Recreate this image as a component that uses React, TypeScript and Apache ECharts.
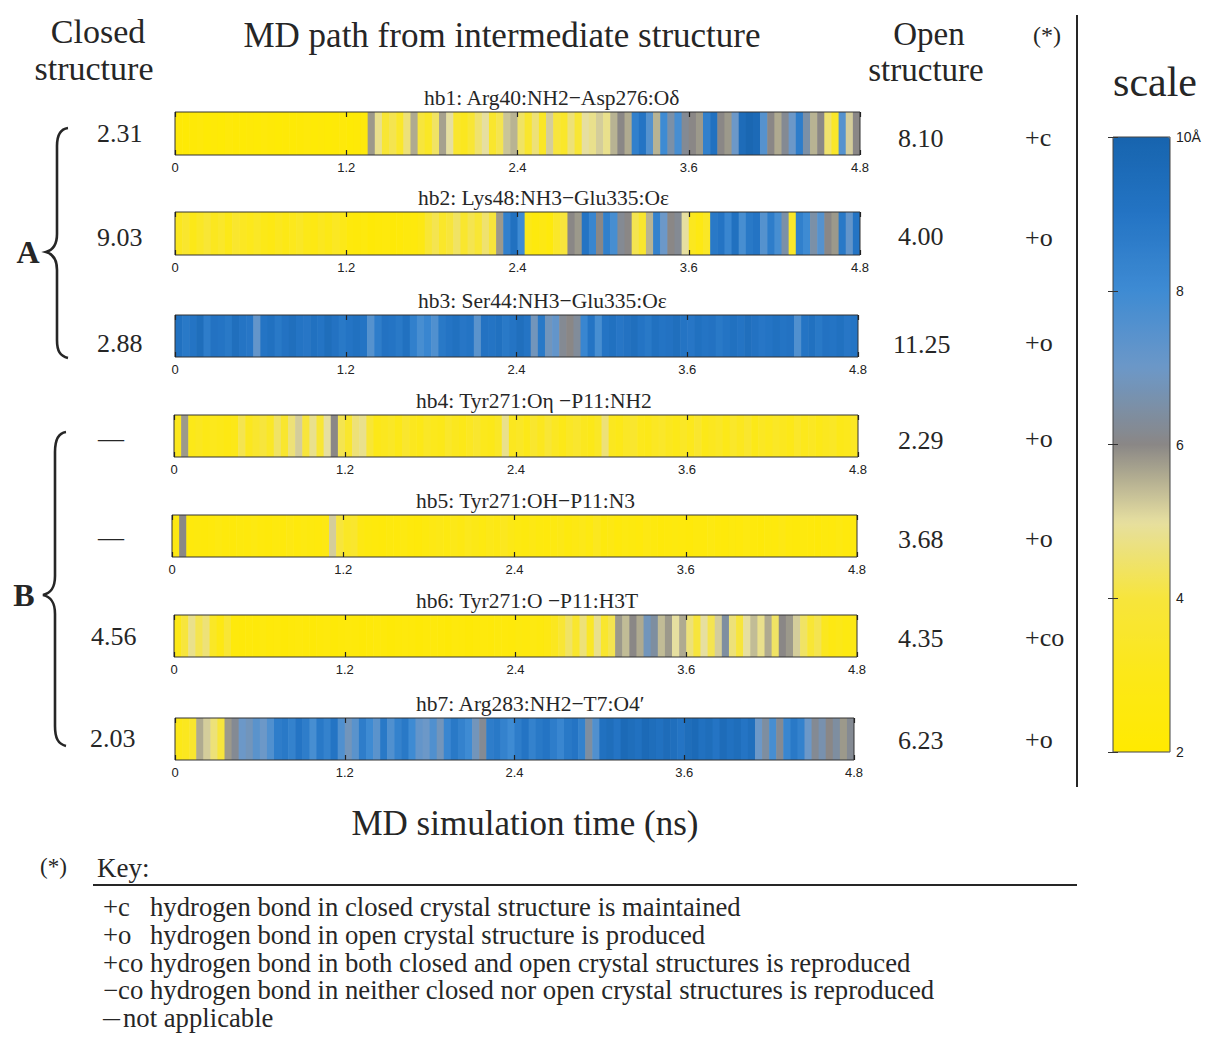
import React, { useEffect, useRef } from "react";
import * as echarts from "echarts";

// ---------------- DATA ----------------
const TIME_MIN = 0;
const TIME_MAX = 4.8;
const TIME_TICK = 1.2;
const SCALE_MIN = 2;
const SCALE_MAX = 10;
const SCALE_TICK = 2;
const SCALE_COLORS = ["#FFEA00", "#FCE818", "#F7E53C", "#E6DFA0", "#8A8786", "#6C98C8", "#3E8BD3", "#2474C4", "#1764AE"];

const bondNames = [
  "hb1: Arg40:NH2\u2212Asp276:O\u03b4",
  "hb2: Lys48:NH3\u2212Glu335:O\u03b5",
  "hb3: Ser44:NH3\u2212Glu335:O\u03b5",
  "hb4: Tyr271:O\u03b7 \u2212P11:NH2",
  "hb5: Tyr271:OH\u2212P11:N3",
  "hb6: Tyr271:O \u2212P11:H3T",
  "hb7: Arg283:NH2\u2212T7:O4\u2032",
];
const closedValues = ["2.31", "9.03", "2.88", "\u2014", "\u2014", "4.56", "2.03"];
const openValues = ["8.10", "4.00", "11.25", "2.29", "3.68", "4.35", "6.23"];
const keyCodes = ["+c", "+o", "+o", "+o", "+o", "+co", "+o"];

// distances (Å) per 0.05 ns bin, 0 .. 4.8 ns
const hb1 = [
  2.3, 2.2, 2.3, 2.4, 2.2, 2.3, 2.2, 2.4, 2.3, 2.2,
  2.3, 2.2, 2.4, 2.3, 2.2, 2.3, 2.2, 2.3, 2.4, 2.2,
  2.3, 2.2, 2.3, 2.4, 2.2, 2.3, 2.5, 5.8, 4.8, 3.8,
  4.2, 3.5, 4.6, 5.6, 4.0, 3.4, 4.4, 5.7, 5.0, 3.6,
  3.2, 3.8, 4.5, 5.0, 3.6, 4.2, 5.3, 5.5, 4.4, 3.6,
  4.6, 3.4, 5.2, 4.0, 3.5, 4.6, 3.8, 5.0, 4.8, 5.2,
  4.8, 5.5, 6.0, 5.6, 8.5, 9.0, 7.5, 5.5, 8.0, 6.5,
  7.8, 6.2, 6.0, 5.8, 8.5, 9.2, 6.0, 5.8, 7.0, 9.5,
  9.8, 9.6, 7.5, 6.0, 5.6, 6.2, 7.0, 8.6, 6.5, 5.5,
  6.0, 4.5, 3.5, 7.5, 5.2, 6.0,
];
const hb2 = [
  3.2, 3.6, 3.0, 3.4, 3.8, 3.2, 3.5, 3.0, 3.6, 3.3,
  3.1, 3.4, 3.0, 2.8, 3.2, 2.9, 3.1, 3.4, 3.0, 2.8,
  3.2, 2.9, 3.3, 3.0, 2.5, 2.4, 2.6, 2.3, 2.4, 2.5,
  2.3, 2.4, 2.6, 2.5, 2.8, 3.8, 4.2, 3.5, 4.0, 4.4,
  3.6, 4.2, 3.8, 4.5, 4.0, 5.8, 8.5, 9.2, 8.0, 3.0,
  2.6, 2.8, 2.5, 3.5, 4.0, 6.0, 5.8, 9.0, 8.2, 6.0,
  8.5, 7.8, 6.2, 6.0, 4.2, 3.6, 5.5, 8.4, 7.0, 6.0,
  6.2, 5.0, 3.2, 2.8, 3.4, 8.8, 9.0, 8.2, 9.2, 7.8,
  8.8, 9.0, 7.5, 8.6, 7.8, 6.5, 3.5, 8.5, 8.0, 6.5,
  7.5, 6.0, 5.8, 8.8, 7.2, 9.0,
];
const hb3 = [
  9.2, 8.8, 9.0, 9.4, 8.6, 9.1, 9.0, 8.8, 9.3, 9.0,
  8.9, 7.2, 9.0, 9.2, 8.8, 9.1, 9.3, 9.0, 8.9, 9.2,
  9.0, 9.4, 9.1, 8.8, 9.0, 9.2, 9.0, 7.5, 8.6, 9.1,
  9.0, 8.8, 9.2, 8.5, 7.8, 8.2, 7.6, 8.8, 9.0, 9.2,
  8.9, 9.0, 7.4, 9.1, 9.0, 9.2, 8.8, 9.0, 9.3, 9.0,
  6.8, 8.8, 6.8, 7.2, 6.2, 6.0, 6.3, 8.2, 9.0, 7.8,
  9.0, 9.2, 8.9, 9.1, 9.3, 9.0, 8.8, 9.2, 9.0, 9.1,
  9.3, 9.0, 8.9, 9.2, 9.0, 9.1, 8.8, 9.0, 9.2, 9.0,
  9.3, 9.1, 8.9, 9.0, 9.2, 9.0, 9.1, 7.6, 9.0, 9.2,
  8.8, 9.1, 9.0, 9.2, 8.9, 9.0,
];
const hb4 = [
  3.2, 5.8, 3.0, 3.2, 2.9, 3.1, 3.0, 2.8, 3.0, 4.2,
  3.2, 3.6, 4.0, 3.4, 4.4, 3.6, 4.6, 5.2, 4.0, 4.8,
  3.8, 5.0, 6.0, 4.2, 3.6, 4.6, 4.8, 3.8, 3.0, 3.2,
  3.4, 3.0, 3.6, 3.2, 3.0, 3.4, 3.1, 3.0, 3.5, 3.2,
  3.0, 3.3, 3.6, 3.1, 3.0, 3.4, 4.8, 3.2, 3.4, 3.0,
  3.6, 3.2, 3.8, 3.3, 3.0, 3.4, 3.6, 3.2, 3.0, 3.4,
  4.6, 3.2, 3.0, 3.4, 3.6, 3.1, 3.0, 3.3, 3.5, 3.2,
  3.0, 3.4, 3.1, 3.6, 3.0, 3.2, 3.4, 3.0, 3.5, 3.2,
  3.6, 3.0, 3.3, 3.1, 3.4, 3.2, 3.0, 3.5, 3.1, 3.3,
  3.0, 3.2, 3.4, 3.0, 3.1, 3.3,
];
const hb5 = [
  2.8, 6.0, 2.5, 2.6, 2.4, 2.5, 2.7, 2.5, 2.4, 2.6,
  2.5, 2.7, 2.5, 2.4, 2.6, 2.5, 2.8, 2.5, 2.7, 2.6,
  2.5, 2.8, 5.2, 4.0, 3.4, 3.6, 2.8, 2.6, 2.5, 2.4,
  2.6, 2.5, 2.7, 2.5, 2.4, 2.6, 2.8, 2.9, 2.7, 3.0,
  2.8, 3.1, 2.9, 2.7, 3.0, 2.8, 3.2, 2.9, 2.7, 2.6,
  2.8, 2.6, 2.5, 2.7, 2.9, 2.6, 2.8, 3.0, 2.7, 3.2,
  2.6, 2.8, 2.5, 2.7, 2.6, 2.5, 2.8, 2.6, 2.4, 2.5,
  2.6, 2.5, 2.4, 2.6, 2.5, 2.7, 2.5, 2.4, 2.6, 2.5,
  2.7, 2.5, 2.4, 2.6, 2.5, 2.8, 2.5, 2.4, 2.6, 2.5,
  2.4, 2.6, 2.5, 2.7, 2.5, 2.6,
];
const hb6 = [
  3.0, 4.0, 4.8, 4.2, 4.6, 3.4, 2.8, 3.8, 2.5, 2.4,
  2.5, 2.4, 2.6, 2.4, 2.5, 2.3, 2.4, 2.5, 2.4, 2.3,
  2.4, 2.5, 2.3, 2.4, 2.5, 2.4, 2.3, 2.4, 2.5, 2.4,
  2.3, 2.4, 2.5, 2.4, 2.3, 2.4, 2.5, 2.4, 2.3, 2.5,
  2.4, 2.3, 2.4, 2.5, 2.4, 2.6, 2.5, 2.4, 2.6, 2.5,
  2.7, 2.6, 2.8, 3.2, 3.8, 4.4, 3.6, 4.6, 3.4, 4.8,
  3.6, 4.2, 5.8, 5.4, 6.0, 5.6, 6.8, 6.4, 5.4, 5.8,
  5.0, 5.6, 4.6, 4.0, 5.0, 4.2, 5.2, 6.4, 4.6, 4.0,
  5.0, 5.4, 4.8, 5.6, 4.4, 6.0, 5.8, 5.2, 4.4, 3.8,
  4.2, 3.2, 2.8, 3.0, 2.7, 2.9,
];
const hb7 = [
  3.0, 3.2, 3.6, 5.6, 5.2, 4.6, 4.0, 5.8, 6.2, 7.0,
  6.8, 7.4, 7.0, 7.6, 8.6, 8.8, 8.4, 9.0, 8.6, 7.8,
  8.8, 8.4, 9.0, 7.6, 6.8, 7.4, 8.6, 8.0, 7.4, 8.8,
  7.6, 8.4, 8.8, 8.0, 7.2, 7.0, 7.6, 6.8, 8.2, 8.8,
  8.4, 8.0, 6.8, 6.2, 8.6, 8.8, 8.4, 8.0, 8.6, 9.0,
  8.4, 8.8, 9.0, 8.6, 8.2, 8.8, 9.0, 8.4, 6.4, 7.6,
  9.2, 9.4, 9.0, 9.6, 9.4, 9.2, 9.6, 9.4, 9.2, 9.5,
  9.3, 9.0, 9.4, 9.6, 9.2, 9.4, 9.0, 9.5, 9.2, 9.4,
  9.0, 9.3, 7.0, 6.4, 7.8, 6.2, 8.2, 8.8, 8.4, 7.0,
  6.2, 6.6, 6.0, 6.4, 5.8, 6.2,
];
const distanceSeries = [hb1, hb2, hb3, hb4, hb5, hb6, hb7];

const keyEntries = [
  ["+c", "hydrogen bond in closed crystal structure is maintained"],
  ["+o", "hydrogen bond in open crystal structure is produced"],
  ["+co", "hydrogen bond in both closed and open crystal structures is reproduced"],
  ["\u2212co", "hydrogen bond in neither closed nor open crystal structures is reproduced"],
  ["\u2014", "not applicable"],
];

// ---------------- LAYOUT ----------------
const SERIF = "'Liberation Serif', 'Times New Roman', serif";
const SANS = "'Liberation Sans', Arial, sans-serif";
const INK = "#262626";

const STRIPS = [
  { left: 175, top: 112, width: 685, height: 43, titleX: 424 },
  { left: 175, top: 212, width: 685, height: 43, titleX: 418 },
  { left: 175, top: 315, width: 683, height: 42, titleX: 418 },
  { left: 174, top: 415, width: 684, height: 42, titleX: 416 },
  { left: 172, top: 515, width: 685, height: 42, titleX: 416 },
  { left: 174, top: 615, width: 683, height: 42, titleX: 416 },
  { left: 175, top: 718, width: 679, height: 42, titleX: 416 },
];
const CLOSED_POS = [[97, 133], [97, 237], [97, 343], [98, 438], [98, 537], [91, 636], [90, 738]];
const OPEN_POS = [[898, 138], [898, 236], [893, 344], [898, 440], [898, 539], [898, 638], [898, 740]];
const CODE_POS = [[1025, 137], [1025, 237], [1025, 342], [1025, 438], [1025, 538], [1025, 637], [1025, 739]];
const KEY_CODE_SIZE = [26.7, 26.7, 26.7, 26.7, 17];
const KEY_DESC_X = [150, 150, 150, 150, 123];
const SCALE_BOX = { left: 1113, top: 137, width: 57, height: 615 };

echarts.graphic.registerShape(
  "braceA",
  echarts.graphic.extendPath(
    "M 68 128 C 60 129 57 135 57 146 L 57 234 C 57 245 53 250 46 252 C 53 254 57 259 57 270 L 57 340 C 57 351 60 356 68 358",
    {}
  )
);
echarts.graphic.registerShape(
  "braceB",
  echarts.graphic.extendPath(
    "M 66 432 C 58 433 55 440 55 452 L 55 576 C 55 588 51 593 43 595 C 51 597 55 602 55 614 L 55 726 C 55 738 58 744 66 746",
    {}
  )
);

function txt(x: number, y: number, text: string, size: number, opts: any = {}) {
  return {
    type: "text",
    x,
    y,
    silent: true,
    style: {
      text,
      fill: opts.fill || INK,
      font: `${opts.weight || "normal"} ${size}px ${opts.family || SERIF}`,
      align: opts.align || "left",
      verticalAlign: "middle",
    },
  };
}

function buildOption() {
  const grids: any[] = [];
  const xAxes: any[] = [];
  const yAxes: any[] = [];
  const series: any[] = [];
  const fmt = (v: number) => String(+v.toFixed(1));

  STRIPS.forEach((s, i) => {
    grids.push({
      left: s.left, top: s.top, width: s.width, height: s.height,
      show: true, borderColor: "#333", borderWidth: 1, backgroundColor: "transparent", z: 10,
    });
    const base = {
      gridIndex: i, type: "value", min: TIME_MIN, max: TIME_MAX, interval: TIME_TICK,
      axisLine: { show: false },
      axisTick: { show: true, inside: true, length: 5, lineStyle: { color: "#222", width: 1.2 } },
      splitLine: { show: false },
      z: 11,
    };
    xAxes.push({
      ...base, position: "bottom",
      axisLabel: { show: true, fontSize: 13, color: "#222", fontFamily: SANS, margin: 6, formatter: fmt },
    });
    xAxes.push({ ...base, position: "top", axisLabel: { show: false } });
    yAxes.push({ gridIndex: i, type: "value", min: 0, max: 10, show: false });
    const values = distanceSeries[i];
    const step = (TIME_MAX - TIME_MIN) / values.length;
    series.push({
      type: "custom",
      xAxisIndex: 2 * i,
      yAxisIndex: i,
      clip: true,
      z: 2,
      encode: { x: 0, y: 1 },
      data: values.map((v, k) => [TIME_MIN + k * step, v]),
      renderItem: (params: any, api: any) => {
        const t = api.value(0);
        const a = api.coord([t, 0]);
        const b = api.coord([t + step, 0]);
        const cs = params.coordSys;
        return {
          type: "rect",
          shape: { x: a[0], y: cs.y, width: b[0] - a[0] + 0.6, height: cs.height },
          style: { fill: api.visual("color") },
        };
      },
    });
  });

  // scale bar axes
  const sg = STRIPS.length;
  grids.push({ ...SCALE_BOX, show: true, borderColor: "#444", borderWidth: 1, backgroundColor: "transparent", z: 10 });
  xAxes.push({ gridIndex: sg, type: "value", show: false });
  const scaleAxis = {
    gridIndex: sg, type: "value", min: SCALE_MIN, max: SCALE_MAX, interval: SCALE_TICK,
    axisLine: { show: false },
    axisTick: { show: true, inside: true, length: 5, lineStyle: { color: "#333" } },
    splitLine: { show: false },
    z: 11,
  };
  yAxes.push({
    ...scaleAxis, position: "right",
    axisLabel: {
      show: true, fontSize: 14, color: "#222", fontFamily: SANS, margin: 6,
      formatter: (v: number) => (v === SCALE_MAX ? `${v}\u00c5` : String(v)),
    },
  });
  yAxes.push({ ...scaleAxis, position: "left", axisLabel: { show: false } });

  const graphics: any[] = [];
  // headers
  graphics.push(txt(98, 31, "Closed", 34, { align: "center" }));
  graphics.push(txt(94, 68, "structure", 34, { align: "center" }));
  graphics.push(txt(502, 35, "MD path from intermediate structure", 35, { align: "center" }));
  graphics.push(txt(929, 34, "Open", 33, { align: "center" }));
  graphics.push(txt(926, 70, "structure", 33, { align: "center" }));
  graphics.push(txt(1047, 35, "(*)", 24, { align: "center" }));
  graphics.push(txt(1155, 82, "scale", 42, { align: "center" }));
  graphics.push({ type: "line", silent: true, shape: { x1: 1077, y1: 15, x2: 1077, y2: 787 }, style: { stroke: INK, lineWidth: 2 } });

  STRIPS.forEach((s, i) => {
    graphics.push(txt(s.titleX, s.top - 14, bondNames[i], 21.5));
    graphics.push(txt(CLOSED_POS[i][0], CLOSED_POS[i][1], closedValues[i], 26));
    graphics.push(txt(OPEN_POS[i][0], OPEN_POS[i][1], openValues[i], 26));
    graphics.push(txt(CODE_POS[i][0], CODE_POS[i][1], keyCodes[i], 26));
  });

  // braces
  graphics.push({ type: "braceA", silent: true, x: 0, y: 0, style: { stroke: INK, lineWidth: 2.6, fill: null } });
  graphics.push({ type: "braceB", silent: true, x: 0, y: 0, style: { stroke: INK, lineWidth: 2.6, fill: null } });
  graphics.push(txt(28, 252, "A", 32, { align: "center", weight: "bold" }));
  graphics.push(txt(24, 595, "B", 32, { align: "center", weight: "bold" }));

  graphics.push(txt(525, 823, "MD simulation time (ns)", 35, { align: "center" }));

  // key
  graphics.push(txt(40, 866, "(*)", 23));
  graphics.push(txt(97, 868, "Key:", 27));
  graphics.push({ type: "line", silent: true, shape: { x1: 93, y1: 885, x2: 1077, y2: 885 }, style: { stroke: INK, lineWidth: 2 } });
  keyEntries.forEach((e, k) => {
    const y = 907 + k * 27.8;
    graphics.push(txt(103, y, e[0], KEY_CODE_SIZE[k], { weight: k === 4 ? "bold" : "normal" }));
    graphics.push(txt(KEY_DESC_X[k], y, e[1], 26.7));
  });

  return {
    animation: false,
    backgroundColor: "#ffffff",
    grid: grids,
    xAxis: xAxes,
    yAxis: yAxes,
    visualMap: {
      type: "continuous",
      min: SCALE_MIN,
      max: SCALE_MAX,
      dimension: 1,
      seriesIndex: STRIPS.map((_, i) => i),
      inRange: { color: SCALE_COLORS },
      orient: "vertical",
      left: SCALE_BOX.left,
      top: SCALE_BOX.top,
      itemWidth: SCALE_BOX.width,
      itemHeight: SCALE_BOX.height,
      padding: 0,
      calculable: false,
      hoverLink: false,
      text: null,
      z: 5,
    },
    series,
    graphic: graphics,
  };
}

export default function App() {
  const ref = useRef<HTMLDivElement>(null);
  useEffect(() => {
    document.body.style.margin = "0";
    const chart = echarts.init(ref.current!, null, { renderer: "svg" });
    chart.setOption(buildOption() as any);
    return () => chart.dispose();
  }, []);
  return <div ref={ref} style={{ width: 1210, height: 1041 }} />;
}
